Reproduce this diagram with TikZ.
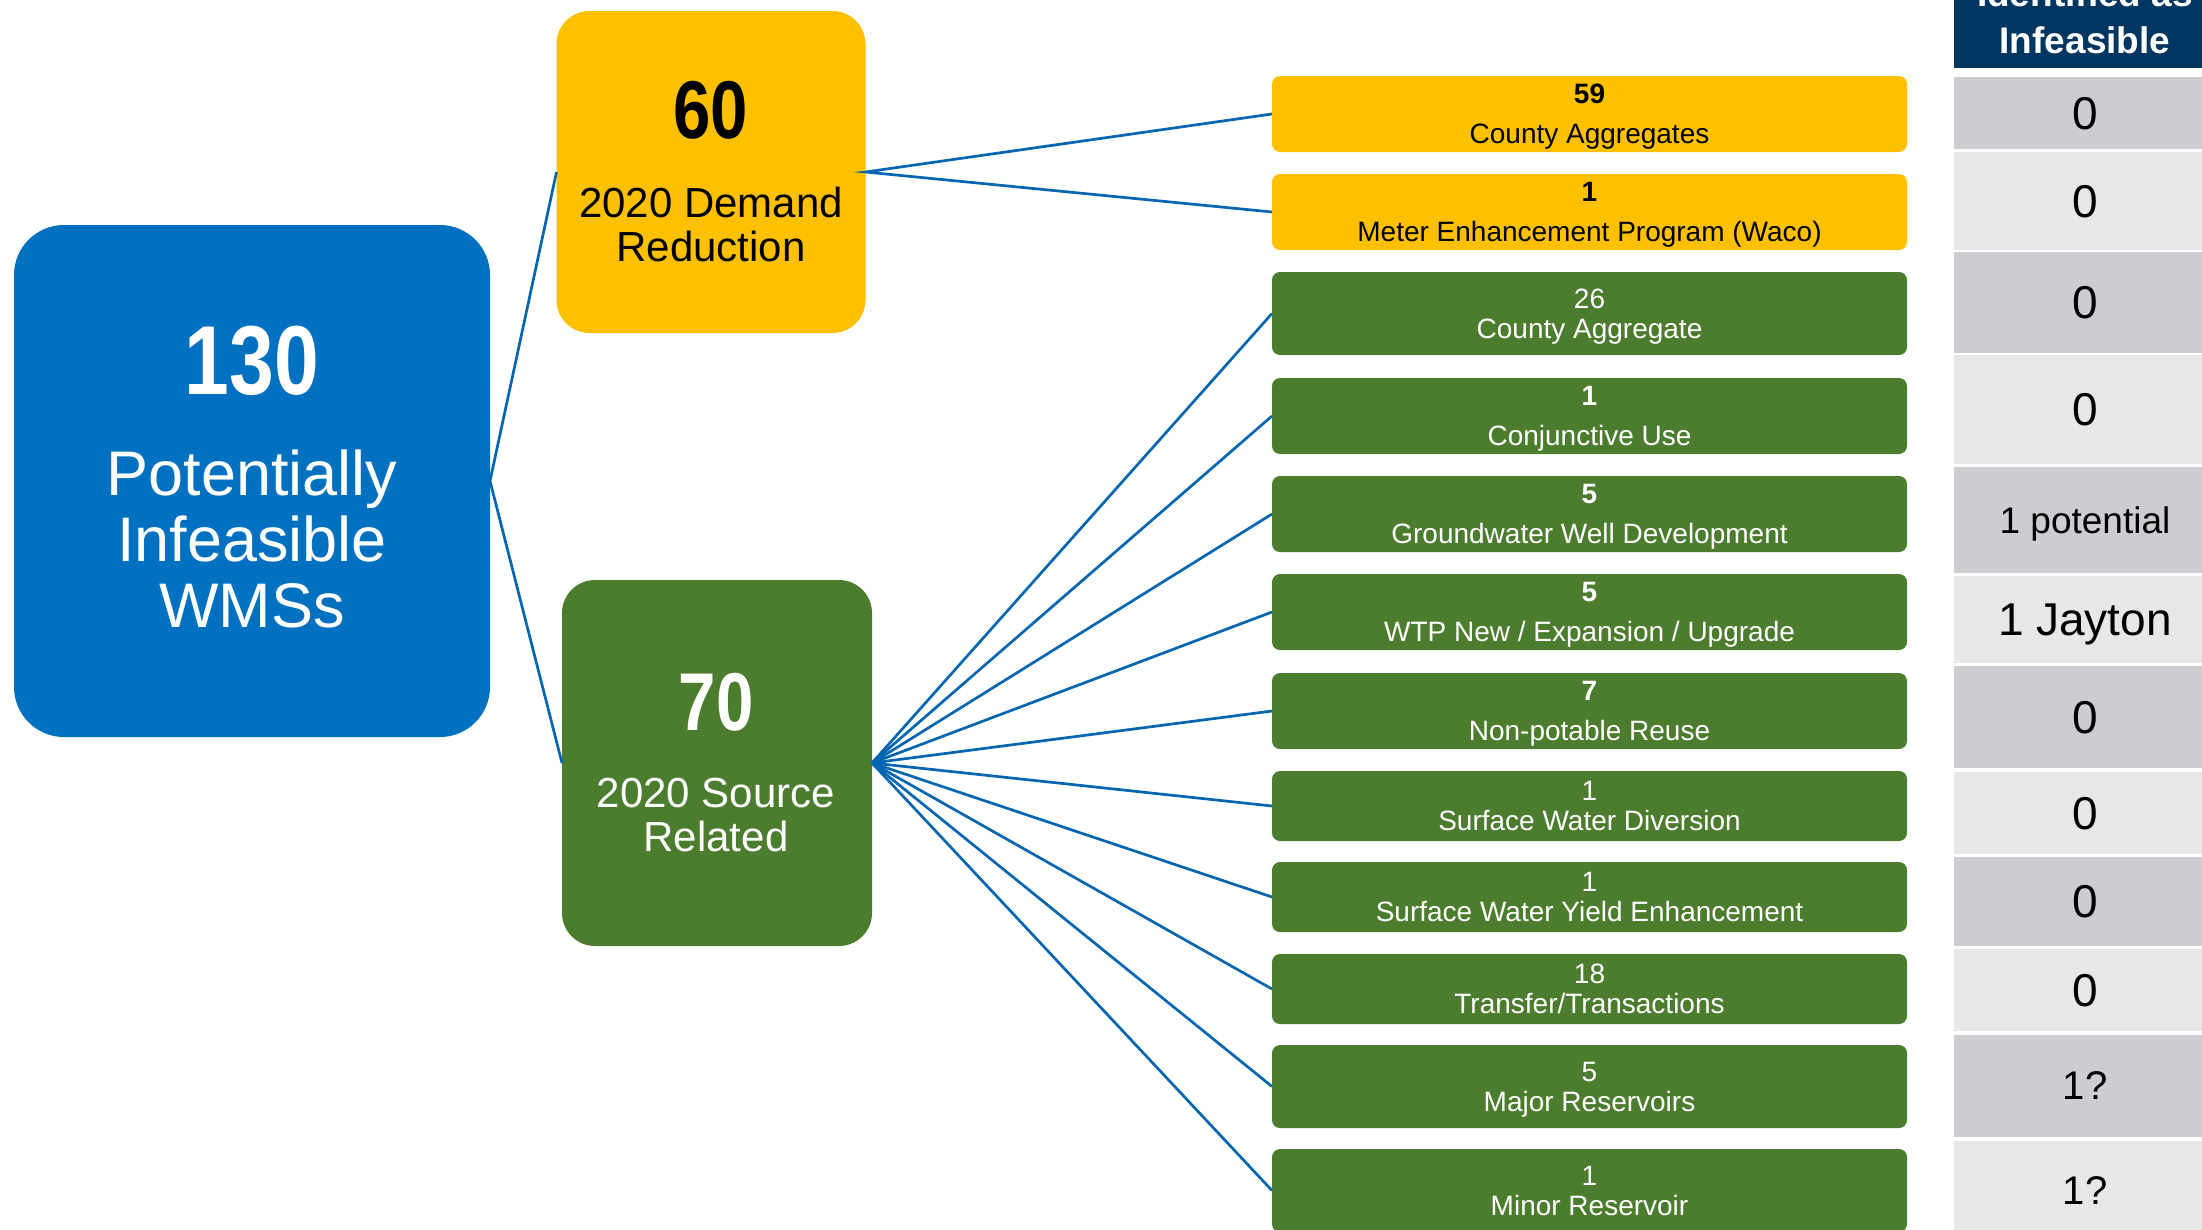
\documentclass[tikz,border=0pt]{standalone}
\usepackage{fontspec}
\setmainfont{Liberation Sans}
\newfontfamily\narrowfont[FakeStretch=0.82]{Liberation Sans}
\usepackage{tikz}

\definecolor{wmsblue}{HTML}{0070C0}
\definecolor{demandyellow}{HTML}{FFC000}
\definecolor{sourcegreen}{HTML}{4C7C2E}
\definecolor{linkblue}{HTML}{0465B0}
\definecolor{headnavy}{HTML}{003660}
\definecolor{rowdark}{HTML}{CBCDD1}
\definecolor{rowlight}{HTML}{E6E7E9}

\begin{document}
\begin{tikzpicture}[x=1pt,y=-1pt,
	bigbox/.style={rounded corners=#1,inner sep=0pt,outer sep=0pt},
	wmsbox/.style={rounded corners=8pt,minimum width=635pt,inner sep=0pt,outer sep=0pt,align=center,text depth=0pt,font=\fontsize{28}{30}\selectfont},
	cell/.style={minimum width=262pt,inner sep=0pt,outer sep=0pt,text depth=0pt,font=\fontsize{46}{50}\selectfont},
	link/.style={draw=linkblue,line width=2.7pt}]
	\useasboundingbox (0,0) rectangle (2202,1229);
	\clip (0,0) rectangle (2202,1229);

	% totals
	\node[bigbox=50pt,fill=wmsblue,minimum width=476pt,minimum height=512pt] (total) at (252,481) {};
	\node[text=white,font=\narrowfont\bfseries\fontsize{98}{100}\selectfont] (totalnum) at (252,361) {130};
	\node[text=white,align=center,font=\fontsize{63}{66}\selectfont] (totaltxt) at (252,539) {Potentially\\Infeasible\\WMSs};

	\node[bigbox=33pt,fill=demandyellow,minimum width=309pt,minimum height=322pt] (demand) at (711,172) {};
	\node[font=\narrowfont\bfseries\fontsize{82}{84}\selectfont] (demandnum) at (711,110) {60};
	\node[align=center,font=\fontsize{42}{44}\selectfont] (demandtxt) at (711,224) {2020 Demand\\Reduction};

	\node[bigbox=33pt,fill=sourcegreen,minimum width=310pt,minimum height=366pt] (source) at (717,763) {};
	\node[text=white,font=\narrowfont\bfseries\fontsize{82}{84}\selectfont] (sourcenum) at (716,702) {70};
	\node[text=white,align=center,font=\fontsize{42}{44}\selectfont] (sourcetxt) at (716,815) {2020 Source\\Related};

	% strategy boxes
	\node[wmsbox,fill=demandyellow,minimum height=76pt] (countyagg) at (1589.5,114) {\textbf{59}\\[10pt]County Aggregates};
	\node[wmsbox,fill=demandyellow,minimum height=76pt] (meter) at (1589.5,212) {\textbf{1}\\[10pt]Meter Enhancement Program (Waco)};
	\node[wmsbox,fill=sourcegreen,text=white,minimum height=83pt] (countyaggb) at (1589.5,313.5) {26\\County Aggregate};
	\node[wmsbox,fill=sourcegreen,text=white,minimum height=76pt] (conjunctive) at (1589.5,416) {\textbf{1}\\[10pt]Conjunctive Use};
	\node[wmsbox,fill=sourcegreen,text=white,minimum height=76pt] (gwwell) at (1589.5,514) {\textbf{5}\\[10pt]Groundwater Well Development};
	\node[wmsbox,fill=sourcegreen,text=white,minimum height=76pt] (wtp) at (1589.5,612) {\textbf{5}\\[10pt]WTP New / Expansion / Upgrade};
	\node[wmsbox,fill=sourcegreen,text=white,minimum height=76pt] (reuse) at (1589.5,711) {\textbf{7}\\[10pt]Non-potable Reuse};
	\node[wmsbox,fill=sourcegreen,text=white,minimum height=70pt] (swdiv) at (1589.5,806) {1\\Surface Water Diversion};
	\node[wmsbox,fill=sourcegreen,text=white,minimum height=70pt] (swyield) at (1589.5,897) {1\\Surface Water Yield Enhancement};
	\node[wmsbox,fill=sourcegreen,text=white,minimum height=70pt] (transfer) at (1589.5,989) {18\\Transfer/Transactions};
	\node[wmsbox,fill=sourcegreen,text=white,minimum height=83pt] (majorres) at (1589.5,1086.5) {5\\Major Reservoirs};
	\node[wmsbox,fill=sourcegreen,text=white,minimum height=83pt] (minorres) at (1589.5,1190.5) {1\\Minor Reservoir};

	% connectors
	\draw[link] (demand.west) -- (total.east) -- (source.west);
	\draw[link] (countyagg.west) -- (demand.east) -- (meter.west);
	\foreach \b in {countyaggb,conjunctive,gwwell,wtp,reuse,swdiv,swyield,transfer,majorres,minorres}
		\draw[link] (source.east) -- (\b.west);

	% infeasible column
	\fill[headnavy] (1954,-60) rectangle (2216,68);
	\node[text=white,anchor=base,font=\bfseries\fontsize{37}{40}\selectfont] (headtop) at (2085,6) {Identified as};
	\node[text=white,anchor=base,font=\bfseries\fontsize{37}{40}\selectfont] (headbot) at (2085,53) {Infeasible};
	\node[cell,fill=rowdark,minimum height=72pt] (r1) at (2085,113) {0};
	\node[cell,fill=rowlight,minimum height=98pt] (r2) at (2085,201) {0};
	\node[cell,fill=rowdark,minimum height=101pt] (r3) at (2085,302.5) {0};
	\node[cell,fill=rowlight,minimum height=109pt] (r4) at (2085,409.5) {0};
	\node[cell,fill=rowdark,minimum height=106pt,font=\fontsize{37}{40}\selectfont] (r5) at (2085,520) {1 potential};
	\node[cell,fill=rowlight,minimum height=87pt] (r6) at (2085,619.5) {1 Jayton};
	\node[cell,fill=rowdark,minimum height=102pt] (r7) at (2085,717) {0};
	\node[cell,fill=rowlight,minimum height=82pt] (r8) at (2085,813) {0};
	\node[cell,fill=rowdark,minimum height=89pt] (r9) at (2085,901.5) {0};
	\node[cell,fill=rowlight,minimum height=82pt] (r10) at (2085,990) {0};
	\node[cell,fill=rowdark,minimum height=102pt,font=\fontsize{40}{44}\selectfont] (r11) at (2085,1086) {1?};
	\node[cell,fill=rowlight,minimum height=99pt,font=\fontsize{40}{44}\selectfont] (r12) at (2085,1190.5) {1?};
\end{tikzpicture}
\end{document}
